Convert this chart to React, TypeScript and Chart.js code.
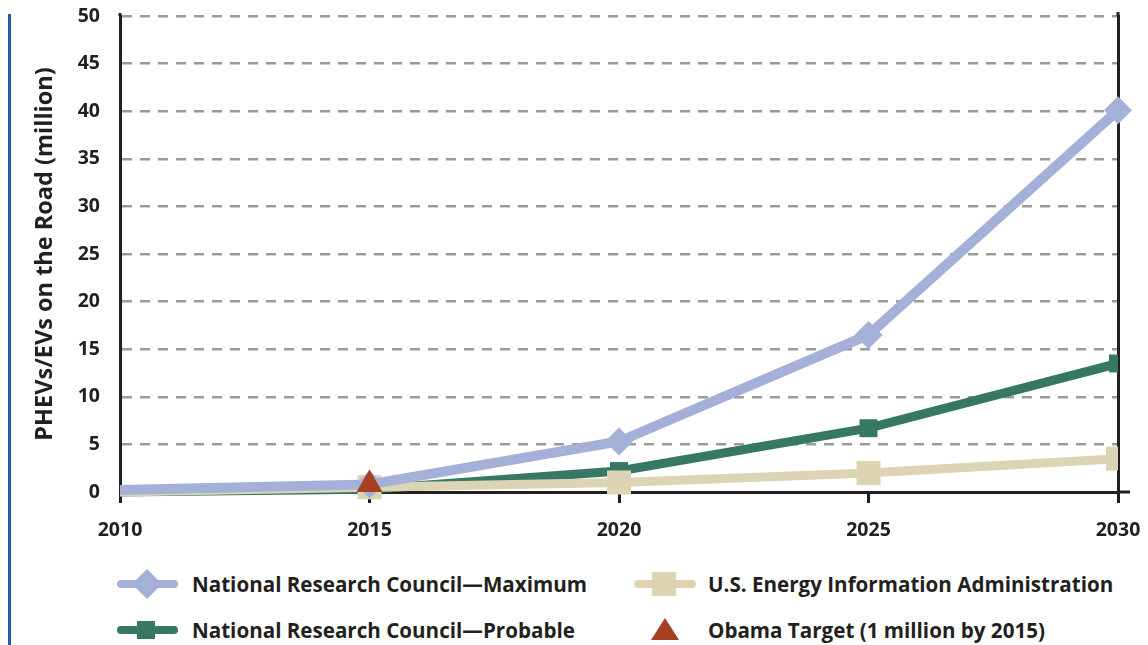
import React, { useEffect, useRef } from "react";
import { Chart, registerables } from "chart.js";

Chart.register(...registerables);

// ---- data ----
const years = [2010, 2015, 2020, 2025, 2030];
const nrcMaximum = [0.2, 0.8, 5.3, 16.5, 40.1];
const nrcProbable = [0, 0.3, 2.2, 6.7, 13.5];
const eiaForecast = [0, 0.5, 1.0, 2.0, 3.5];
const obamaYears = [2015];
const obamaTarget = [0.8];
const yMin = 0;
const yMax = 50;
const yStep = 5;
const xStep = 5;

const seriesNames = {
  max: "National Research Council\u2014Maximum",
  probable: "National Research Council\u2014Probable",
  eia: "U.S. Energy Information Administration",
  obama: "Obama Target (1 million by 2015)",
};
const yTitle = "PHEVs/EVs on the Road (million)";

const COLORS = {
  max: "#a4b0d7",
  probable: "#367863",
  eia: "#ddd4b3",
  obama: "#a73f22",
  text: "#231f20",
  grid: "#9b9b9b",
  frame: "#231f20",
  rule: "#1f5ea6",
};
const FONT = '"Open Sans", "DejaVu Sans", sans-serif';

const pts = (xs: number[], ys: number[]) => xs.map((x, i) => ({ x, y: ys[i] }));
const radiiSkipFirst = (r: number) => years.map((_, i) => (i === 0 ? 0 : r));

const frameExtras = {
  id: "frameExtras",
  beforeDatasetsDraw(chart: any) {
    const { ctx, chartArea } = chart;
    ctx.save();
    ctx.strokeStyle = COLORS.frame;
    ctx.lineWidth = 3;
    ctx.beginPath();
    ctx.moveTo(chartArea.right, chartArea.bottom);
    ctx.lineTo(chartArea.right + 12, chartArea.bottom);
    ctx.moveTo(chartArea.left, chartArea.top);
    ctx.lineTo(chartArea.left, chartArea.top - 3);
    ctx.moveTo(chartArea.right, chartArea.top);
    ctx.lineTo(chartArea.right, chartArea.top - 4);
    ctx.stroke();
    ctx.restore();
  },
};

const noPad = (s: any) => {
  s.paddingTop = 0;
  s.paddingBottom = 0;
  s.paddingLeft = 0;
  s.paddingRight = 0;
};

function Legend() {
  const textStyle = (left: number, cy: number): React.CSSProperties => ({
    position: "absolute",
    left,
    top: cy - 14,
    height: 28,
    lineHeight: "28px",
    fontFamily: FONT,
    fontWeight: 700,
    fontSize: 20.6,
    color: COLORS.text,
    whiteSpace: "nowrap",
  });
  return (
    <>
      <svg
        width={1148}
        height={85}
        style={{ position: "absolute", left: 0, top: 560 }}
      >
        <line x1={121} y1={24} x2={174} y2={24} stroke={COLORS.max} strokeWidth={8} strokeLinecap="round" />
        <polygon points="147,9 162,24 147,39 132,24" fill={COLORS.max} />
        <line x1={121} y1={70} x2={174} y2={70} stroke={COLORS.probable} strokeWidth={8} strokeLinecap="round" />
        <rect x={137} y={61} width={18} height={18} fill={COLORS.probable} />
        <line x1={638} y1={24} x2={692} y2={24} stroke={COLORS.eia} strokeWidth={8} strokeLinecap="round" />
        <rect x={652} y={12} width={24} height={24} fill={COLORS.eia} />
        <polygon points="665,58 679,80 651,80" fill={COLORS.obama} />
      </svg>
      <div style={textStyle(192, 584)}>{seriesNames.max}</div>
      <div style={textStyle(192, 630)}>{seriesNames.probable}</div>
      <div style={textStyle(708, 584)}>{seriesNames.eia}</div>
      <div style={textStyle(708, 630)}>{seriesNames.obama}</div>
    </>
  );
}

export default function App() {
  const canvasRef = useRef<HTMLCanvasElement | null>(null);

  useEffect(() => {
    if (!canvasRef.current) return;
    const tickFont = { family: FONT, size: 19.5, weight: "bold" as const };
    const chart = new Chart(canvasRef.current, {
      type: "line",
      data: {
        datasets: [
          {
            label: seriesNames.obama,
            data: pts(obamaYears, obamaTarget),
            showLine: false,
            pointStyle: "triangle",
            pointRadius: 15,
            pointHoverRadius: 15,
            pointBackgroundColor: COLORS.obama,
            pointBorderWidth: 0,
            borderColor: COLORS.obama,
            backgroundColor: COLORS.obama,
            order: 0,
            clip: false as any,
          },
          {
            label: seriesNames.max,
            data: pts(years, nrcMaximum),
            borderColor: COLORS.max,
            backgroundColor: COLORS.max,
            borderWidth: 10,
            pointStyle: "rectRot",
            pointRadius: radiiSkipFirst(14),
            pointHoverRadius: radiiSkipFirst(14),
            pointBackgroundColor: COLORS.max,
            pointBorderWidth: 0,
            tension: 0,
            order: 1,
            clip: false as any,
          },
          {
            label: seriesNames.eia,
            data: pts(years, eiaForecast),
            borderColor: COLORS.eia,
            backgroundColor: COLORS.eia,
            borderWidth: 9,
            pointStyle: "rect",
            pointRadius: radiiSkipFirst(17),
            pointHoverRadius: radiiSkipFirst(17),
            pointBackgroundColor: COLORS.eia,
            pointBorderWidth: 0,
            tension: 0,
            order: 2,
            clip: { left: 0, right: 0, top: 20, bottom: 20 } as any,
          },
          {
            label: seriesNames.probable,
            data: pts(years, nrcProbable),
            borderColor: COLORS.probable,
            backgroundColor: COLORS.probable,
            borderWidth: 9,
            pointStyle: "rect",
            pointRadius: radiiSkipFirst(12.7),
            pointHoverRadius: radiiSkipFirst(12.7),
            pointBackgroundColor: COLORS.probable,
            pointBorderWidth: 0,
            tension: 0,
            order: 3,
            clip: { left: 0, right: 0, top: 20, bottom: 20 } as any,
          },
        ],
      },
      options: {
        animation: false,
        responsive: false,
        maintainAspectRatio: false,
        events: [],
        layout: { autoPadding: false, padding: { top: 16, left: 0, right: 0, bottom: 0 } },
        plugins: {
          legend: { display: false },
          tooltip: { enabled: false },
        },
        scales: {
          x: {
            type: "linear",
            min: years[0],
            max: years[years.length - 1],
            afterFit: (s: any) => {
              s.height = 68;
              noPad(s);
            },
            ticks: {
              stepSize: xStep,
              color: COLORS.text,
              font: tickFont,
              padding: 16,
              callback: (v: any) => String(v),
              maxRotation: 0,
            },
            grid: {
              drawOnChartArea: false,
              drawTicks: true,
              tickLength: 11,
              color: COLORS.frame,
              lineWidth: 3,
            },
            border: { display: true, color: COLORS.frame, width: 3 },
          },
          y: {
            type: "linear",
            position: "left",
            min: yMin,
            max: yMax,
            afterFit: (s: any) => {
              s.width = 120;
              noPad(s);
            },
            ticks: {
              stepSize: yStep,
              color: COLORS.text,
              font: tickFont,
              padding: 20,
            },
            grid: {
              drawTicks: false,
              color: (ctx: any) => (ctx.tick && ctx.tick.value === 0 ? "rgba(0,0,0,0)" : COLORS.grid),
              lineWidth: 2.5,
            },
            border: { display: true, color: COLORS.frame, width: 3, dash: [10, 8] },
            title: {
              display: true,
              text: yTitle,
              color: COLORS.text,
              font: { family: FONT, size: 23.5, weight: "bold" },
              padding: { top: 31, bottom: 0 },
            },
          },
          y2: {
            type: "linear",
            position: "right",
            min: yMin,
            max: yMax,
            afterFit: (s: any) => {
              s.width = 30;
              noPad(s);
            },
            ticks: { display: false },
            grid: { drawOnChartArea: false, drawTicks: false },
            border: { display: true, color: COLORS.frame, width: 3 },
          },
        },
      },
      plugins: [frameExtras],
    });
    return () => chart.destroy();
  }, []);

  return (
    <div
      style={{
        position: "fixed",
        left: 0,
        top: 0,
        width: 1148,
        height: 645,
        background: "#ffffff",
        overflow: "hidden",
      }}
    >
      <div
        style={{
          position: "absolute",
          left: 8,
          top: 14,
          width: 3,
          height: 631,
          background: COLORS.rule,
        }}
      />
      <canvas
        ref={canvasRef}
        width={1148}
        height={560}
        style={{ position: "absolute", left: 0, top: 0, width: 1148, height: 560 }}
      />
      <Legend />
    </div>
  );
}
